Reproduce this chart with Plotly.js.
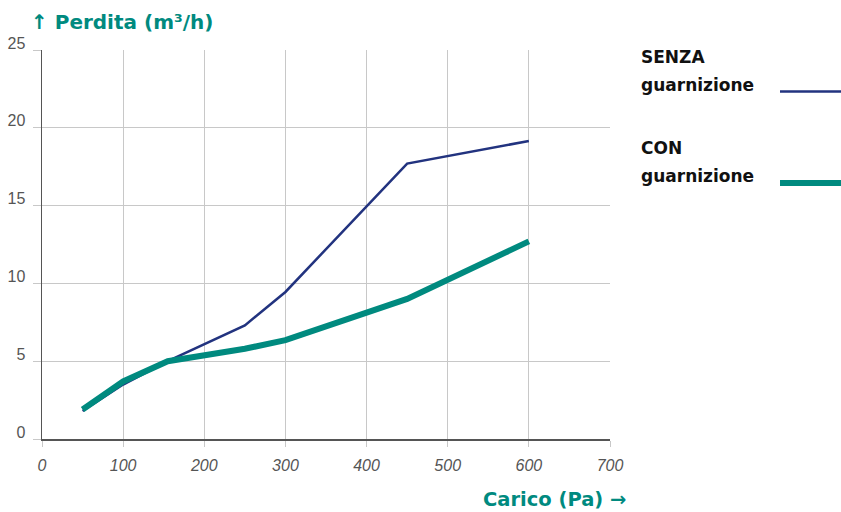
<!DOCTYPE html>
<html><head><meta charset="utf-8">
<script src="https://cdn.plot.ly/plotly-3.0.1.min.js"></script>
<style>html,body{margin:0;padding:0;background:#fff}#c{width:841px;height:512px}</style>
</head><body><div id="c"></div>
<script>
const loadPa = [50, 100, 155, 250, 300, 450, 600];
const senza = [1.8, 3.5, 5.0, 7.3, 9.45, 17.7, 19.15];
const con = [1.9, 3.7, 5.0, 5.8, 6.35, 9.0, 12.7];
const xTicks = [0, 100, 200, 300, 400, 500, 600, 700];
const yTicks = [0, 5, 10, 15, 20, 25];
const legendLines = [['SENZA', 'guarnizione'], ['CON', 'guarnizione']];
const colors = ['#22337f', '#008a7f'];

const traces = [
  {x: loadPa, y: senza, mode: 'lines', line: {color: colors[0], width: 2.5}, name: 'SENZA guarnizione'},
  {x: loadPa, y: con, mode: 'lines', line: {color: colors[1], width: 6}, name: 'CON guarnizione'}
];

const PL = 42, PW = 568, PB = 439, PH = 389;
const px = v => (v - PL) / PW, py = v => (PB - v) / PH;
const boldFont = (size, color) => ({family: 'DejaVu Sans, sans-serif', size: size, color: color, weight: 700});

const legendY = [[57, 85], [148, 176]];
const annotations = [
  {text: 'Carico (Pa) →', xref: 'paper', yref: 'paper', x: px(628), y: py(499),
   xanchor: 'right', yanchor: 'middle', showarrow: false, font: boldFont(19.5, '#008a7f')}
];
legendLines.forEach((lines, i) => lines.forEach((t, j) => annotations.push({
  text: t, xref: 'paper', yref: 'paper', x: px(639), y: py(legendY[i][j]),
  xanchor: 'left', yanchor: 'middle', align: 'left', showarrow: false, font: boldFont(17, '#111')
})));

const layout = {
  width: 841, height: 512,
  margin: {l: PL, r: 841 - PL - PW, t: 50, b: 512 - PB},
  paper_bgcolor: '#fff', plot_bgcolor: '#fff',
  showlegend: false,
  font: {family: 'Liberation Sans, Arial, sans-serif', color: '#555'},
  title: {text: '↑ Perdita (m³/h)', x: 31/841, xanchor: 'left', xref: 'container',
          y: 1 - 22/512, yanchor: 'middle', yref: 'container', font: boldFont(20, '#008a7f')},
  xaxis: {range: [0, 700], tickvals: xTicks, ticktext: xTicks.map(v => '<i>' + v + '</i>'),
          showgrid: true, gridcolor: '#c8c8c8', gridwidth: 1,
          showline: true, linecolor: '#555', linewidth: 1.5,
          ticks: 'outside', ticklen: 6, tickcolor: '#c8c8c8', tickwidth: 1, ticklabelstandoff: 5,
          tickfont: {size: 16, color: '#555'}, zeroline: false, fixedrange: true},
  yaxis: {range: [0, 25], tickvals: yTicks,
          showgrid: true, gridcolor: '#c8c8c8', gridwidth: 1,
          showline: true, linecolor: '#555', linewidth: 1.5,
          ticks: 'outside', ticklen: 8, tickcolor: '#c8c8c8', tickwidth: 1,
          ticklabelshift: -7, ticklabelstandoff: 4,
          tickfont: {size: 16, color: '#555'}, zeroline: false, fixedrange: true},
  annotations: annotations,
  shapes: [
    {type: 'line', xref: 'paper', yref: 'paper', x0: px(780), x1: px(841),
     y0: py(91.5), y1: py(91.5), line: {color: colors[0], width: 2.5}},
    {type: 'line', xref: 'paper', yref: 'paper', x0: px(780), x1: px(841),
     y0: py(183), y1: py(183), line: {color: colors[1], width: 6}}
  ]
};
Plotly.newPlot('c', traces, layout, {displayModeBar: false, staticPlot: true});
</script></body></html>
